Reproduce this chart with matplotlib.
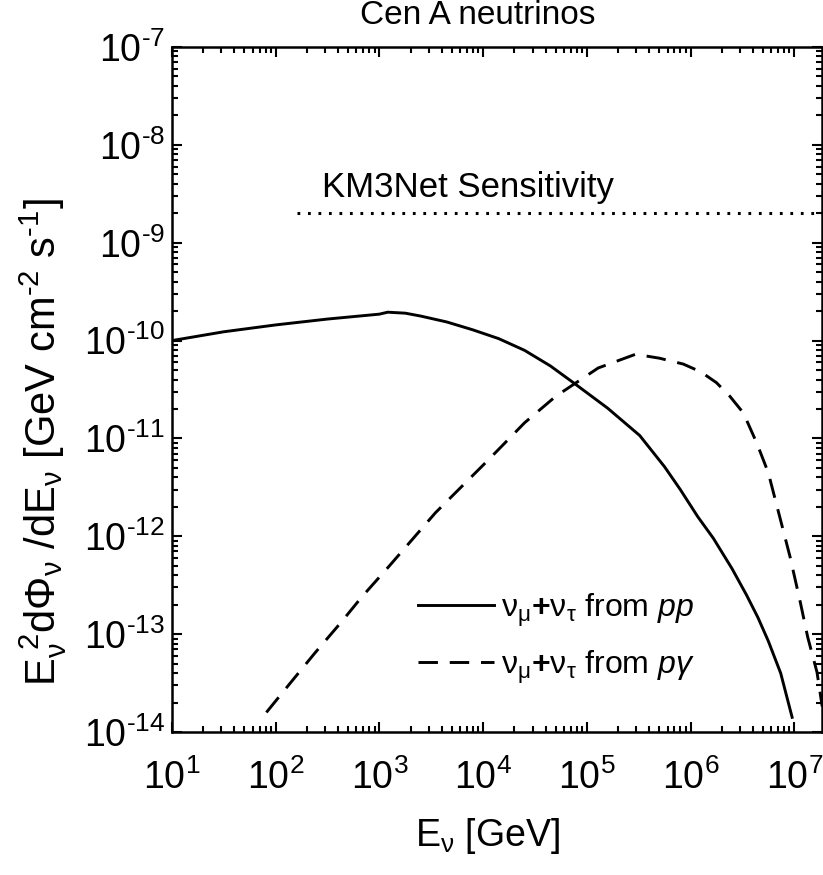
import numpy as np
import matplotlib
matplotlib.use("Agg")
import matplotlib.pyplot as plt
from matplotlib.ticker import LogLocator, NullFormatter, FuncFormatter

plt.rcParams['font.family'] = ['Liberation Sans', 'DejaVu Sans']
plt.rcParams['mathtext.fontset'] = 'custom'
plt.rcParams['mathtext.rm'] = 'Liberation Sans'
plt.rcParams['mathtext.it'] = 'Liberation Sans:italic'
plt.rcParams['mathtext.bf'] = 'Liberation Sans:bold'
plt.rcParams['lines.scale_dashes'] = False

# neutrinos from pp (log10 values)
log_e_pp = [1.0, 1.5, 2.0, 2.5, 3.0, 3.08, 3.25, 3.4, 3.65, 3.9, 4.15, 4.4, 4.65, 4.87,
            5.2, 5.51, 5.75, 5.9, 6.07, 6.22, 6.4, 6.54, 6.65, 6.75, 6.87, 6.98]
log_f_pp = [-10.0, -9.91, -9.84, -9.78, -9.73, -9.71, -9.72, -9.75, -9.81, -9.89, -9.98,
            -10.10, -10.26, -10.43, -10.69, -10.97, -11.29, -11.52, -11.80, -12.02, -12.33,
            -12.60, -12.83, -13.07, -13.40, -13.85]

# neutrinos from p-gamma
log_e_pg = [1.91, 2.125, 2.38, 2.63, 2.83, 3.09, 3.54, 4.05, 4.40, 4.70, 5.11, 5.47, 5.7,
            5.93, 6.1, 6.25, 6.38, 6.51, 6.64, 6.75, 6.86, 6.96, 7.06, 7.13, 7.22, 7.27]
log_f_pg = [-13.80, -13.52, -13.19, -12.88, -12.62, -12.31, -11.76, -11.22, -10.84, -10.57,
            -10.28, -10.14, -10.18, -10.24, -10.32, -10.43, -10.57, -10.74, -11.05, -11.35,
            -11.80, -12.21, -12.68, -13.03, -13.39, -13.74]

# KM3Net sensitivity level
km3_e = [160, 1e8]
km3_f = [2e-9, 2e-9]

e_pp = 10 ** np.array(log_e_pp)
f_pp = 10 ** np.array(log_f_pp)
e_pg = 10 ** np.array(log_e_pg)
f_pg = 10 ** np.array(log_f_pg)

fig = plt.figure(figsize=(8.23, 8.75), dpi=100)
ax = fig.add_axes([172 / 823, 1 - 732 / 875, 650 / 823, 685 / 875])

nu_label = r'$\mathrm{\nu_{\mu}}$$\mathbf{+}$$\mathrm{\nu_{\tau}}$ from '
ax.plot(e_pp, f_pp, color='black', lw=2.1, label=nu_label + r'$\it{pp}$')
ax.plot(e_pg, f_pg, color='black', lw=2.1, linestyle=(0, (14, 8.5)),
        label=nu_label + r'$\it{p\gamma}$')
ax.plot(km3_e, km3_f, color='black', lw=2.2, linestyle=(0, (2.0, 5.55)))
ax.text(279, 2.94e-9, 'KM3Net Sensitivity', fontsize=25, va='baseline', ha='left')

ax.set_xscale('log')
ax.set_yscale('log')
ax.set_xlim(10, 10 ** 7.268)
ax.set_ylim(1e-14, 1e-7)


def sci_label(v, pos):
    n = int(round(np.log10(v)))
    if n < 0:
        return r'10$^{\text{-}%d}$' % (-n)
    return r'10$^{%d}$' % n


ax.xaxis.set_major_locator(LogLocator(base=10, numticks=20))
ax.yaxis.set_major_locator(LogLocator(base=10, numticks=20))
ax.xaxis.set_minor_locator(LogLocator(base=10, subs=np.arange(2, 10), numticks=20))
ax.yaxis.set_minor_locator(LogLocator(base=10, subs=np.arange(2, 10), numticks=20))
ax.xaxis.set_major_formatter(FuncFormatter(sci_label))
ax.yaxis.set_major_formatter(FuncFormatter(sci_label))
ax.xaxis.set_minor_formatter(NullFormatter())
ax.yaxis.set_minor_formatter(NullFormatter())

ax.tick_params(which='both', direction='in', top=True, right=True, width=1.5, labelsize=27)
ax.tick_params(which='major', length=7)
ax.tick_params(which='minor', length=4)
ax.tick_params(axis='x', which='major', pad=20)
ax.tick_params(axis='y', which='major', pad=5)
for s in ax.spines.values():
    s.set_linewidth(1.8)

ax.set_xlabel(r'E$_{\mathrm{\nu}}$ [GeV]', fontsize=27)
ax.xaxis.set_label_coords(0.485, -0.152)
ax.xaxis.label.set_va('center')

# y label placed by hand (sits a little below the axes centre in the original)
fig.text(43 / 823, 1 - 442 / 875,
         r'E$_{\mathrm{\nu}}^{\ 2}$d$\Phi_{\mathrm{\nu}}$ /dE$_{\mathrm{\nu}}$ [GeV cm$^{\text{-}2}$ s$^{\text{-}1}$]',
         fontsize=30, rotation=90, ha='center', va='center')
fig.text(478 / 823, 1 - 16 / 875, 'Cen A neutrinos', fontsize=24, ha='center', va='center')

ax.legend(loc='upper left', bbox_to_anchor=(0.378, 0.205), frameon=False, fontsize=23,
          handlelength=2.4, handletextpad=0.2, labelspacing=0.62, borderaxespad=0, borderpad=0)

fig.savefig('out.png', dpi=100)
